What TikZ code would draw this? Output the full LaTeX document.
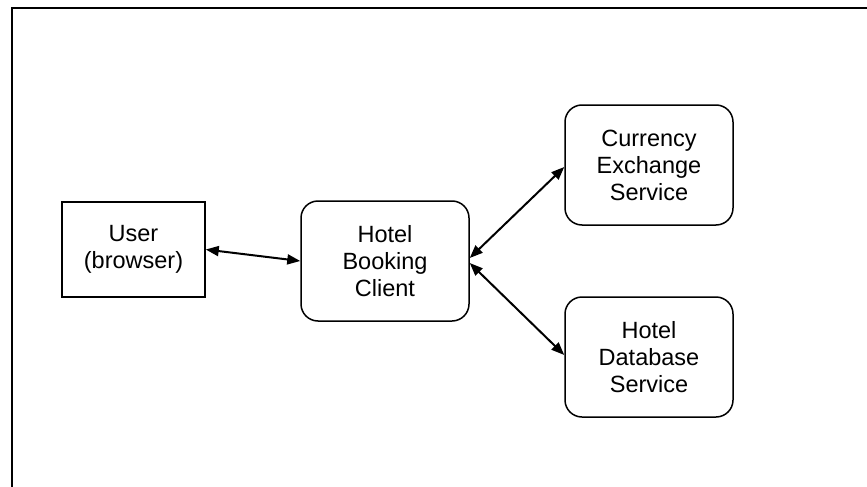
\documentclass[tikz,border=0pt]{standalone}
\usepackage{fontspec}
\setmainfont{Liberation Sans}
\usepackage{tikz}
\usetikzlibrary{arrows.meta}
\usetikzlibrary{positioning}

\begin{document}
\begin{tikzpicture}[x=1pt,y=-1pt]
\tikzset{
    plain/.style={
              rectangle,
                   draw,
                   line width=1.5pt,
                   align=center,
                   font=\fontsize{23.5}{27}\selectfont,
                   minimum width=143pt,
                   minimum height=95pt
    },
    service/.style={
              rectangle,
                   rounded corners=17pt,
                   draw,
                   line width=1.5pt,
                   align=center,
                   font=\fontsize{23.5}{27}\selectfont,
                   minimum width=168pt,
                   minimum height=120pt
    },
    link/.style={
              {Triangle[length=13pt,width=10pt]}-{Triangle[length=13pt,width=10pt]},
                   line width=2pt,
                   shorten <=0pt,
                   shorten >=0pt
    }
}
    \useasboundingbox (0,0) rectangle (867,487);
    \draw[line width=2pt] (867,8) -- (11.5,8) -- (11.5,487);

    \node (user)[plain] at (133.5,249.5) {User\\(browser)};
    \node (client)[service] at (385,261) {Hotel\\Booking\\Client};
    \node (currency)[service] at (649,165) {Currency\\Exchange\\Service};
    \node (database)[service] at (649,357) {Hotel\\Database\\Service};

    \draw[link] (user.east) -- (client.west);
    \draw[link] ([yshift=3pt]client.east) -- ([yshift=-2pt]currency.west);
    \draw[link] ([yshift=-2pt]client.east) -- ([yshift=2pt]database.west);

\end{tikzpicture}
\end{document}
